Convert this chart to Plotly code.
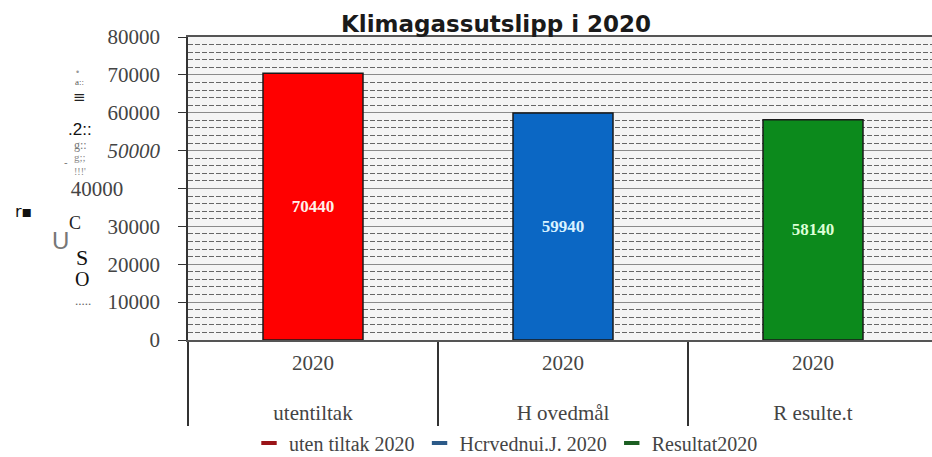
import plotly.graph_objects as go

# ---------------- data ----------------
title_text = "Klimagassutslipp i 2020"
groups = ["utentiltak", "H ovedmål", "R esulte.t"]
years = ["2020", "2020", "2020"]
values = [70440, 59940, 58140]
bar_colors = ["#ff0000", "#0b67c4", "#0c8a1c"]
label_colors = ["#fff0ea", "#d8f2ff", "#dcffd6"]
legend_names = ["uten tiltak 2020", "Hcrvednui.J. 2020", "Resultat2020"]
legend_colors = ["#9a1418", "#2c5a88", "#1b5e22"]
y_tickvals = [0, 10000, 20000, 30000, 40000, 50000, 60000, 70000, 80000]
y_ticktext = ["0", "10000", "20000", "30000", "40000" + "\u00a0" * 7,
              "<i>50000</i>", "60000", "70000", "80000"]
# garbled (scanned) y-axis title fragments: text, px-x, px-y, size, colour, font
ytitle_bits = [
    ("•", 77, 72, 9, "#999", "Liberation Sans"),
    ("a::", 79, 82, 9, "#555", "Liberation Serif"),
    ("≡", 80, 97, 15, "#222", "DejaVu Sans"),
    (".2::", 80, 129, 17, "#111", "Liberation Sans"),
    ("g::", 81, 145, 12, "#777", "Liberation Serif"),
    ("g;;", 80, 157, 11, "#888", "Liberation Serif"),
    ("-", 66, 162, 11, "#777", "Liberation Sans"),
    ("!!!'", 80, 172, 10, "#888", "Liberation Serif"),
    ("r▪", 23, 211, 16, "#111", "DejaVu Sans"),
    ("C", 75, 223, 18, "#222", "Liberation Serif"),
    ("U", 60, 240, 24, "#777", "Liberation Sans"),
    ("S", 82, 257, 22, "#111", "Liberation Serif"),
    ("O", 82, 279, 20, "#111", "Liberation Serif"),
    (".....", 83, 300, 13, "#666", "Liberation Serif"),
]

W, H = 932, 457
L, R, T, B = 188, 0, 37, 117
pw, ph = W - L - R, H - T - B

fig = go.Figure()
fig.add_trace(go.Bar(
    x=[groups, [y + "<br>\u00a0" for y in years]], y=values,
    marker=dict(color=bar_colors, line=dict(color="#1a1a1a", width=1.5)),
    width=0.4,
    text=[str(v) for v in values], textposition="inside",
    insidetextanchor="middle", textangle=0,
    textfont=dict(family="Liberation Serif", size=17, color=label_colors, weight="bold"),
    showlegend=False, hoverinfo="skip",
))
for name, col in zip(legend_names, legend_colors):
    fig.add_trace(go.Scatter(
        x=[None], y=[None], mode="markers", name=name,
        marker=dict(symbol="line-ew", size=11, color=col,
                    line=dict(color=col, width=4)),
    ))

annotations = []
for txt, px, py, sz, col, fam in ytitle_bits:
    annotations.append(dict(
        text=txt, x=(px - L) / pw, y=(H - B - py) / ph, xref="paper", yref="paper",
        showarrow=False, xanchor="center", yanchor="middle",
        font=dict(size=sz, color=col, family=fam),
    ))

fig.update_layout(
    width=W, height=H,
    margin=dict(l=L, r=R, t=T, b=B, pad=0, autoexpand=False),
    paper_bgcolor="white", plot_bgcolor="#f4f4f4",
    title=dict(text=title_text, x=496 / W, xanchor="center", xref="container",
               y=1 - 24 / H, yanchor="middle", yref="container",
               font=dict(family="DejaVu Sans", size=23, color="#1a1a1a", weight="bold")),
    barmode="overlay",
    legend=dict(orientation="h", xref="container", yref="container",
                x=506 / W, xanchor="center", y=1 - 443 / H, yanchor="middle",
                font=dict(family="Liberation Serif", size=20, color="#444"),
                bgcolor="rgba(0,0,0,0)", itemsizing="trace", tracegroupgap=0),
    annotations=annotations,
    xaxis=dict(type="multicategory", range=[-0.5, pw / 250 - 0.5], automargin=False,
               showline=True, linecolor="#555", linewidth=1.5, mirror=True,
               ticks="", showgrid=False, showdividers=True, ticklabelstandoff=3,
               dividercolor="#333", dividerwidth=1.5,
               tickfont=dict(family="Liberation Serif", size=21, color="#444")),
    yaxis=dict(range=[0, 80000], tickvals=y_tickvals, ticktext=y_ticktext,
               automargin=False,
               showline=True, linecolor="#333", linewidth=1.5,
               ticks="outside", ticklen=8, tickcolor="#333", tickwidth=1.2,
               ticklabelstandoff=14,
               showgrid=True, gridcolor="#8a8a8a", gridwidth=1.2,
               minor=dict(dtick=2000, tick0=0, showgrid=True, gridcolor="#666",
                          griddash="5px,2px", gridwidth=1, ticks=""),
               tickfont=dict(family="Liberation Serif", size=21, color="#444"),
               zeroline=False),
)

fig.write_html("out.html", config={"displayModeBar": False},
               post_script="document.body.style.margin='0';document.body.style.overflow='hidden';")
